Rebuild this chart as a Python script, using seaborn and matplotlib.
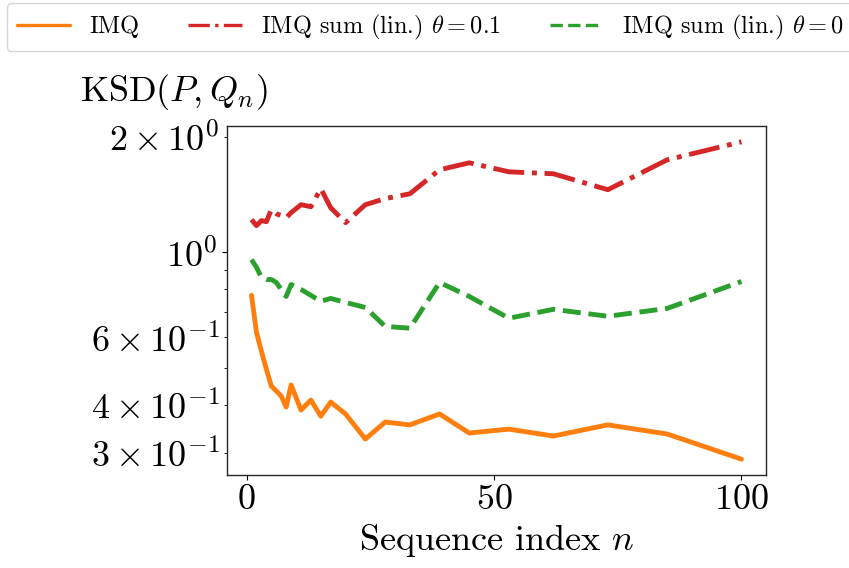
import numpy as np
import pandas as pd
import matplotlib
matplotlib.use("Agg")
import matplotlib.pyplot as plt
from matplotlib.lines import Line2D
import seaborn as sns

# Sequence indices at which the discrepancy was evaluated
n_values = [1, 2, 3, 4, 5, 6, 7, 8, 9, 11, 13, 15, 17, 20, 24, 28, 33, 39, 45, 53, 62, 73, 85, 100]

# Kernel Stein discrepancy for each kernel choice
ksd_imq = [0.772, 0.619, 0.552, 0.496, 0.448, 0.435, 0.422, 0.395, 0.451, 0.388, 0.412, 0.374,
           0.407, 0.379, 0.326, 0.361, 0.355, 0.379, 0.338, 0.346, 0.332, 0.355, 0.336, 0.289]
ksd_sum_01 = [1.216, 1.173, 1.209, 1.201, 1.291, 1.260, 1.245, 1.230, 1.268, 1.330, 1.314, 1.464,
              1.306, 1.194, 1.330, 1.379, 1.420, 1.640, 1.710, 1.620, 1.601, 1.455, 1.741, 1.939]
ksd_sum_0 = [0.957, 0.913, 0.860, 0.849, 0.849, 0.834, 0.800, 0.767, 0.824, 0.800, 0.772, 0.745,
             0.758, 0.740, 0.718, 0.641, 0.634, 0.834, 0.767, 0.673, 0.710, 0.681, 0.714, 0.839]

labels = ["IMQ", r"IMQ sum (lin.) $\theta = 0.1$", r"IMQ sum (lin.) $\theta = 0$"]
colors = ["#ff7f0e", "#d62728", "#2ca02c"]
dash_styles = ["", (6.4, 1.6, 1.0, 1.6), (3.7, 1.6)]

df = pd.concat([
    pd.DataFrame({"n": n_values, "ksd": vals, "method": lab})
    for vals, lab in zip([ksd_imq, ksd_sum_01, ksd_sum_0], labels)
], ignore_index=True)

sns.set_style("ticks")
plt.rcParams.update({
    "font.family": "serif",
    "font.serif": ["cmr10"],
    "mathtext.fontset": "cm",
    "axes.formatter.use_mathtext": True,
    "axes.unicode_minus": True,
    "text.color": "black",
    "axes.labelcolor": "black",
    "xtick.color": "black",
    "ytick.color": "black",
    "xtick.major.size": 3.5,
    "ytick.major.size": 3.5,
    "xtick.minor.size": 2.0,
    "ytick.minor.size": 2.0,
    "axes.edgecolor": "0.15",
    "axes.linewidth": 1.0,
})

fig = plt.figure(figsize=(8.49, 5.68), dpi=100)
ax = fig.add_axes([0.2674, 0.1637, 0.6348, 0.6145])

sns.lineplot(data=df, x="n", y="ksd", hue="method", style="method",
             hue_order=labels, style_order=labels,
             palette=dict(zip(labels, colors)),
             dashes=dict(zip(labels, dash_styles)),
             linewidth=3.5, ax=ax, legend=False)

ax.set_yscale("log")
ax.set_xticks([0, 50, 100])
ax.tick_params(axis="both", which="both", labelsize=26)
ax.set_xlabel(r"Sequence index $n$", fontsize=26, labelpad=4)
ax.set_ylabel("")

fig.text(80 / 849, 1 - 101 / 568, r"KSD$(P,Q_n)$", fontsize=26,
         ha="left", va="baseline")

# Legend keys drawn slightly thinner than the plotted curves
handles = []
for col, ds in zip(colors, dash_styles):
    h = Line2D([], [], color=col, linewidth=2.4)
    if ds:
        h.set_dashes(ds)
    handles.append(h)
fig.legend(handles, labels, loc="upper left", bbox_to_anchor=(0.008, 0.995),
           ncol=3, fontsize=17.5, frameon=True, handlelength=2.2,
           handletextpad=0.8, columnspacing=2.0, borderaxespad=0.0)

fig.savefig("out.png", dpi=100)
